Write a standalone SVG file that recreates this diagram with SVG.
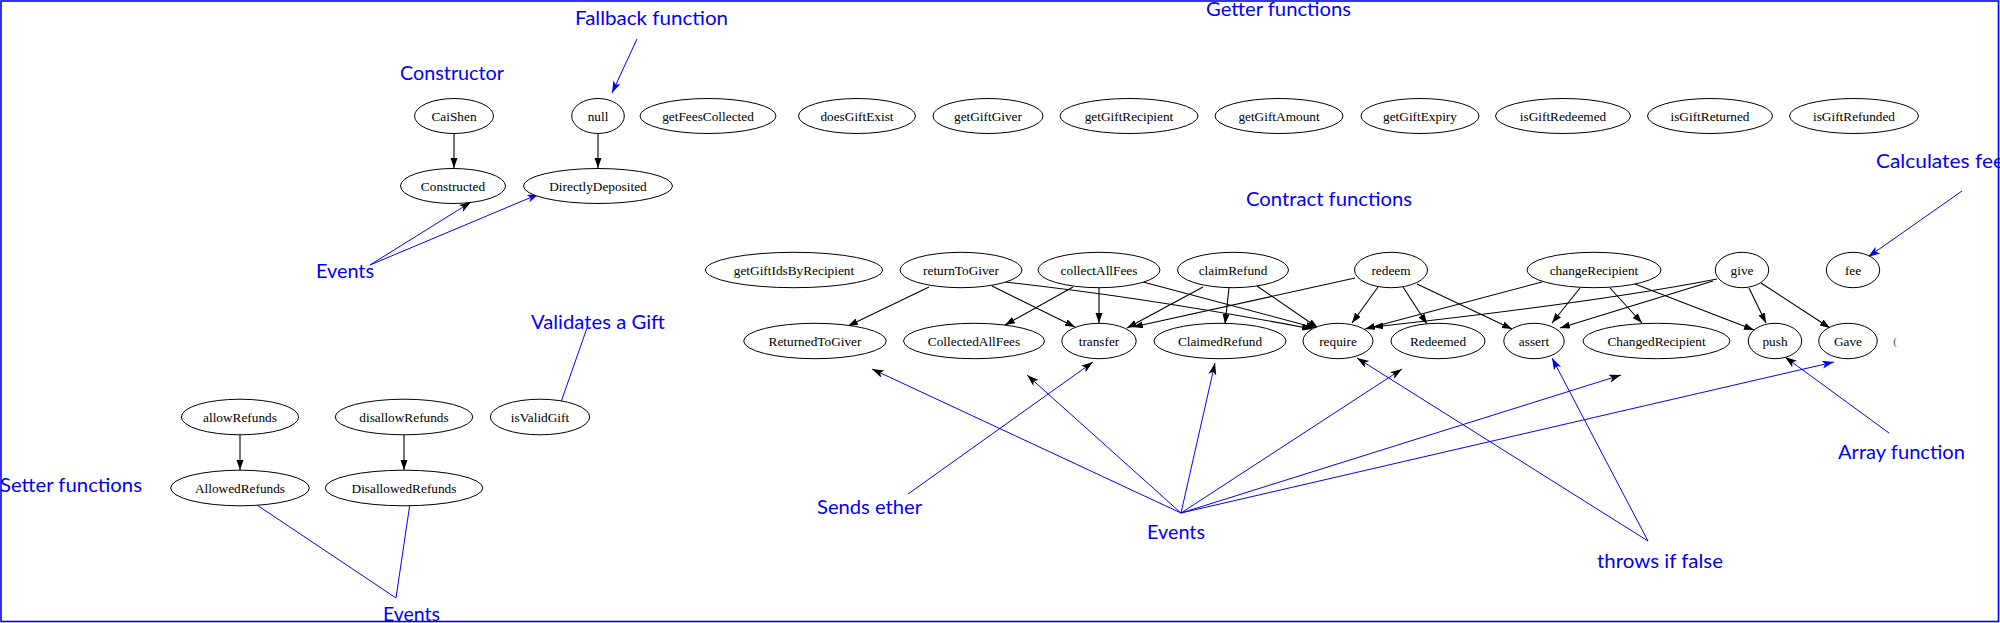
<svg xmlns="http://www.w3.org/2000/svg" width="2000" height="623" viewBox="0 0 2000 623">
<style>
.n ellipse{fill:#fff;stroke:#000;stroke-width:1}
.n text{font-family:"Liberation Serif","Times New Roman",serif;font-size:13.3px;fill:#000;text-anchor:middle}
.e{fill:none;stroke:#000;stroke-width:1.1;marker-end:url(#ah)}
.b{fill:none;stroke:#0000ff;stroke-width:1}
.bk{marker-end:url(#bk)}
.bb{marker-end:url(#bb)}
.a{font-family:Lato,"Open Sans","Liberation Sans",sans-serif;font-size:18.5px;fill:#0000ff}
</style>
<defs>
<marker id="ah" markerUnits="userSpaceOnUse" markerWidth="11" markerHeight="8" refX="10" refY="3.5" orient="auto"><path d="M0,0 L10,3.5 L0,7 z" fill="#000"/></marker>
<marker id="bk" markerUnits="userSpaceOnUse" markerWidth="13" markerHeight="9" refX="12" refY="4" orient="auto"><path d="M0,0 L12,4 L0,8 L3,4 z" fill="#000"/></marker>
<marker id="bb" markerUnits="userSpaceOnUse" markerWidth="13" markerHeight="9" refX="12" refY="4" orient="auto"><path d="M0,0 L12,4 L0,8 L3,4 z" fill="#0000ff"/></marker>
</defs>
<rect x="0" y="0" width="2000" height="623" fill="#fff"/>

<g id="connectors">
<path class="e" d="M454,134 L454,168"/>
<path class="e" d="M598,134 L598,168"/>
<path class="e" d="M929,287 L848,326"/>
<path class="e" d="M992,286 L1075,327"/>
<path class="e" d="M1005,282 Q1150,298 1312,329"/>
<path class="e" d="M1073,287 L1005,325"/>
<path class="e" d="M1099,288 L1099,323"/>
<path class="e" d="M1143,282 L1316,328"/>
<path class="e" d="M1203,287 L1127,328"/>
<path class="e" d="M1229,288 L1225,324"/>
<path class="e" d="M1257,286 L1318,328"/>
<path class="e" d="M1355,278 L1133,327"/>
<path class="e" d="M1378,287 L1352,323"/>
<path class="e" d="M1403,287 L1427,324"/>
<path class="e" d="M1417,284 L1512,329"/>
<path class="e" d="M1542,282 L1365,329"/>
<path class="e" d="M1580,288 L1552,323"/>
<path class="e" d="M1610,288 L1642,323"/>
<path class="e" d="M1635,284 L1754,330"/>
<path class="e" d="M1717,279 Q1600,302 1373,327"/>
<path class="e" d="M1713,281 L1560,328"/>
<path class="e" d="M1749,288 L1766,323"/>
<path class="e" d="M1761,283 L1830,328"/>
<path class="e" d="M240,435 L240,470"/>
<path class="e" d="M404,435 L404,470"/>
</g>

<g id="annotation-connectors">
<path class="b bb" d="M637,39 L612,93"/>
<path class="b bk" d="M370,265 L471,202"/>
<path class="b bb" d="M370,265 L539,194"/>
<path class="b bb" d="M1962,191 L1868,257"/>
<path class="b" d="M587,328 L561,402"/>
<path class="b" d="M242,495 L396,598 L412,490"/>
<path class="b bk" d="M908,494 L1093,362"/>
<path class="b bk" d="M1181,513 L872,369"/>
<path class="b bk" d="M1181,513 L1027,375"/>
<path class="b bk" d="M1181,513 L1215,363"/>
<path class="b bk" d="M1181,513 L1402,369"/>
<path class="b bk" d="M1181,513 L1621,375"/>
<path class="b bb" d="M1181,513 L1834,362"/>
<path class="b bk" d="M1648,541 L1357,358"/>
<path class="b bb" d="M1648,541 L1552,358"/>
<path class="b bk" d="M1889,433 L1785,357"/>
</g>

<g id="CaiShen" class="n"><ellipse cx="454" cy="116" rx="39.5" ry="17.5"/><text x="454" y="120.5">CaiShen</text></g>
<g id="null" class="n"><ellipse cx="598" cy="116" rx="26.3" ry="17.5"/><text x="598" y="120.5">null</text></g>
<g id="getFeesCollected" class="n"><ellipse cx="708" cy="116" rx="68" ry="17.5"/><text x="708" y="120.5">getFeesCollected</text></g>
<g id="doesGiftExist" class="n"><ellipse cx="857" cy="116" rx="58.5" ry="17.5"/><text x="857" y="120.5">doesGiftExist</text></g>
<g id="getGiftGiver" class="n"><ellipse cx="988" cy="116" rx="55" ry="17.5"/><text x="988" y="120.5">getGiftGiver</text></g>
<g id="getGiftRecipient" class="n"><ellipse cx="1129" cy="116" rx="69" ry="17.5"/><text x="1129" y="120.5">getGiftRecipient</text></g>
<g id="getGiftAmount" class="n"><ellipse cx="1279" cy="116" rx="64" ry="17.5"/><text x="1279" y="120.5">getGiftAmount</text></g>
<g id="getGiftExpiry" class="n"><ellipse cx="1420" cy="116" rx="59" ry="17.5"/><text x="1420" y="120.5">getGiftExpiry</text></g>
<g id="isGiftRedeemed" class="n"><ellipse cx="1563" cy="116" rx="67.5" ry="17.5"/><text x="1563" y="120.5">isGiftRedeemed</text></g>
<g id="isGiftReturned" class="n"><ellipse cx="1710" cy="116" rx="62.5" ry="17.5"/><text x="1710" y="120.5">isGiftReturned</text></g>
<g id="isGiftRefunded" class="n"><ellipse cx="1854" cy="116" rx="64.5" ry="17.5"/><text x="1854" y="120.5">isGiftRefunded</text></g>
<g id="Constructed" class="n"><ellipse cx="453" cy="186" rx="52.5" ry="17.5"/><text x="453" y="190.5">Constructed</text></g>
<g id="DirectlyDeposited" class="n"><ellipse cx="598" cy="186" rx="74.5" ry="17.5"/><text x="598" y="190.5">DirectlyDeposited</text></g>

<g id="getGiftIdsByRecipient" class="n"><ellipse cx="794" cy="270" rx="88.5" ry="17.7"/><text x="794" y="274.5">getGiftIdsByRecipient</text></g>
<g id="returnToGiver" class="n"><ellipse cx="961" cy="270" rx="61" ry="17.7"/><text x="961" y="274.5">returnToGiver</text></g>
<g id="collectAllFees" class="n"><ellipse cx="1099" cy="270" rx="61" ry="17.7"/><text x="1099" y="274.5">collectAllFees</text></g>
<g id="claimRefund" class="n"><ellipse cx="1233" cy="270" rx="55.5" ry="17.7"/><text x="1233" y="274.5">claimRefund</text></g>
<g id="redeem" class="n"><ellipse cx="1391" cy="270" rx="36.5" ry="17.7"/><text x="1391" y="274.5">redeem</text></g>
<g id="changeRecipient" class="n"><ellipse cx="1594" cy="270" rx="67" ry="17.7"/><text x="1594" y="274.5">changeRecipient</text></g>
<g id="give" class="n"><ellipse cx="1742" cy="270" rx="26.7" ry="17.7"/><text x="1742" y="274.5">give</text></g>
<g id="fee" class="n"><ellipse cx="1853" cy="270" rx="26.7" ry="17.7"/><text x="1853" y="274.5">fee</text></g>

<g id="ReturnedToGiver" class="n"><ellipse cx="815" cy="341" rx="71.3" ry="17.7"/><text x="815" y="345.5">ReturnedToGiver</text></g>
<g id="CollectedAllFees" class="n"><ellipse cx="974" cy="341" rx="70.5" ry="17.7"/><text x="974" y="345.5">CollectedAllFees</text></g>
<g id="transfer" class="n"><ellipse cx="1099" cy="341" rx="37.2" ry="17.7"/><text x="1099" y="345.5">transfer</text></g>
<g id="ClaimedRefund" class="n"><ellipse cx="1220" cy="341" rx="66" ry="17.7"/><text x="1220" y="345.5">ClaimedRefund</text></g>
<g id="require" class="n"><ellipse cx="1338" cy="341" rx="35" ry="17.7"/><text x="1338" y="345.5">require</text></g>
<g id="Redeemed" class="n"><ellipse cx="1438" cy="341" rx="47" ry="17.7"/><text x="1438" y="345.5">Redeemed</text></g>
<g id="assert" class="n"><ellipse cx="1534" cy="341" rx="30.2" ry="17.7"/><text x="1534" y="345.5">assert</text></g>
<g id="ChangedRecipient" class="n"><ellipse cx="1656.5" cy="341" rx="73.5" ry="17.7"/><text x="1656.5" y="345.5">ChangedRecipient</text></g>
<g id="push" class="n"><ellipse cx="1775" cy="341" rx="26.7" ry="17.7"/><text x="1775" y="345.5">push</text></g>
<g id="Gave" class="n"><ellipse cx="1848" cy="341" rx="29.3" ry="17.7"/><text x="1848" y="345.5">Gave</text></g>
<g id="stray"><text x="1895" y="345" font-family="Liberation Serif, serif" font-size="11" fill="#444" text-anchor="middle">(</text></g>

<g id="allowRefunds" class="n"><ellipse cx="240" cy="417" rx="58.7" ry="17.8"/><text x="240" y="421.5">allowRefunds</text></g>
<g id="disallowRefunds" class="n"><ellipse cx="404" cy="417" rx="68.8" ry="17.8"/><text x="404" y="421.5">disallowRefunds</text></g>
<g id="isValidGift" class="n"><ellipse cx="540" cy="417" rx="49.7" ry="17.8"/><text x="540" y="421.5">isValidGift</text></g>
<g id="AllowedRefunds" class="n"><ellipse cx="240" cy="488" rx="69.3" ry="17.8"/><text x="240" y="492.5">AllowedRefunds</text></g>
<g id="DisallowedRefunds" class="n"><ellipse cx="404" cy="488" rx="78.8" ry="17.8"/><text x="404" y="492.5">DisallowedRefunds</text></g>

<g id="annotations">
<text class="a" x="575" y="25" textLength="153" lengthAdjust="spacingAndGlyphs">Fallback function</text>
<text class="a" x="400" y="80" textLength="104" lengthAdjust="spacingAndGlyphs">Constructor</text>
<text class="a" x="1206" y="15.5" textLength="145" lengthAdjust="spacingAndGlyphs">Getter functions</text>
<text class="a" x="316" y="278" textLength="58" lengthAdjust="spacingAndGlyphs">Events</text>
<text class="a" x="1246" y="206" textLength="166" lengthAdjust="spacingAndGlyphs">Contract functions</text>
<text class="a" x="1876" y="168" textLength="128" lengthAdjust="spacingAndGlyphs">Calculates fee</text>
<text class="a" x="531" y="329" textLength="134" lengthAdjust="spacingAndGlyphs">Validates a Gift</text>
<text class="a" x="0" y="492" textLength="142" lengthAdjust="spacingAndGlyphs">Setter functions</text>
<text class="a" x="817" y="514" textLength="105" lengthAdjust="spacingAndGlyphs">Sends ether</text>
<text class="a" x="1147" y="539" textLength="58" lengthAdjust="spacingAndGlyphs">Events</text>
<text class="a" x="1597" y="568" textLength="126" lengthAdjust="spacingAndGlyphs">throws if false</text>
<text class="a" x="1838" y="459" textLength="127" lengthAdjust="spacingAndGlyphs">Array function</text>
<text class="a" x="383" y="621" textLength="57" lengthAdjust="spacingAndGlyphs">Events</text>
</g>

<rect x="1" y="1" width="1997.5" height="620.5" fill="none" stroke="#0000ff" stroke-width="1.6"/>
</svg>
